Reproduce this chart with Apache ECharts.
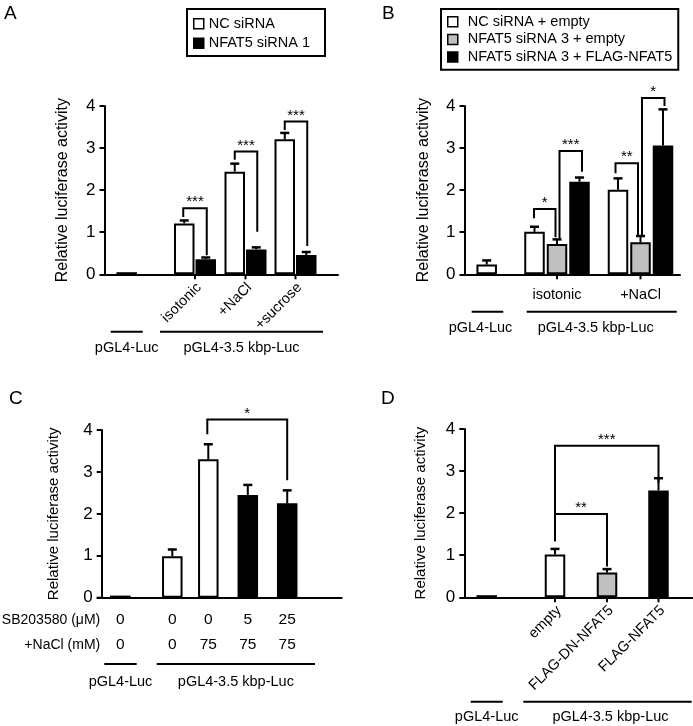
<!DOCTYPE html>
<html><head><meta charset="utf-8">
<script src="https://cdn.jsdelivr.net/npm/echarts@6/dist/echarts.min.js"></script>
<style>html,body{margin:0;padding:0;background:#fff}#c{width:693px;height:726px}</style>
</head><body><div id="c"></div>
<script>
const FONT = '"Liberation Sans", Arial, Helvetica, sans-serif';

// ---------------- DATA ----------------
const promoters = ['pGL4-Luc', 'pGL4-3.5 kbp-Luc'];
const yTicks = [0, 1, 2, 3, 4];

// Panel A
const A_groups = ['pGL4-Luc', 'isotonic', '+NaCl', '+sucrose'];
const A_names = ['NC siRNA', 'NFAT5 siRNA 1'];
const A_nc = [0.05, 1.21, 2.44, 3.21];
const A_ncErr = [0, 0.07, 0.19, 0.15];
const A_kd = [null, 0.36, 0.59, 0.46];
const A_kdErr = [null, 0.04, 0.05, 0.07];
const A_sig = ['***', '***', '***'];

// Panel B
const B_groups = ['pGL4-Luc', 'isotonic', '+NaCl'];
const B_names = ['NC siRNA + empty', 'NFAT5 siRNA 3 + empty', 'NFAT5 siRNA 3 + FLAG-NFAT5'];
const B_nc = [0.23, 1.01, 2.01];
const B_ncErr = [0.10, 0.12, 0.27];
const B_kd = [null, 0.72, 0.76];
const B_kdErr = [null, 0.11, 0.15];
const B_res = [null, 2.20, 3.06];
const B_resErr = [null, 0.10, 0.86];
const B_sig = ['*', '***', '**', '*'];

// Panel C
const C_sb = ['0', '0', '0', '5', '25'];
const C_nacl = ['0', '0', '75', '75', '75'];
const C_rowNames = ['SB203580 (\u03bcM)', '+NaCl (mM)'];
const C_veh = [0.05, 0.99, 3.30, null, null];
const C_vehErr = [0, 0.16, 0.36, null, null];
const C_inh = [null, null, null, 2.45, 2.25];
const C_inhErr = [null, null, null, 0.24, 0.31];
const C_sig = ['*'];

// Panel D
const D_groups = ['pGL4-Luc', 'empty', 'FLAG-DN-NFAT5', 'FLAG-NFAT5'];
const D_empty = [0.05, 1.02, null, null];
const D_emptyErr = [0, 0.13, null, null];
const D_dn = [null, null, 0.59, null];
const D_dnErr = [null, null, 0.08, null];
const D_fl = [null, null, null, 2.54];
const D_flErr = [null, null, null, 0.29];
const D_sig = ['**', '***'];

// ---------------- LAYOUT ----------------
const WHITE = '#ffffff', GRAY = '#c0c0c0', BLACK = '#000000';
const grids = [
  {left: 104.5, top: 106, width: 233.5, height: 168.3},
  {left: 464.5, top: 106, width: 215.5, height: 168.3},
  {left: 101.7, top: 430, width: 240, height: 167.7},
  {left: 464.3, top: 429, width: 228, height: 168.3}
];

const panels = [
  { // A
    groupX: [22.2, 90.5, 141, 191], pitch: 21.5,
    series: [
      {name: A_names[0], values: A_nc, errs: A_ncErr, color: WHITE},
      {name: A_names[1], values: A_kd, errs: A_kdErr, color: BLACK}
    ],
    brackets: [
      {from: 1, to: 2, y1: 1.36, top: 1.57, y2: 0.45, dxL: -1, dxR: 1},
      {from: 3, to: 4, y1: 2.72, top: 2.92, y2: 1.01, dxL: 0, dxR: 1},
      {from: 5, to: 6, y1: 3.43, top: 3.63, y2: 0.67, dxL: 0, dxR: 1}
    ], sig: A_sig,
    ticks: {groups: [1, 2, 3]},
    rotLabels: {groups: [1, 2, 3], texts: A_groups},
    under: [[6.2, 38.2, 0], [55.5, 218.5, 0]], underDy: 57.4, underLabelDy: 73.7,
    yName: 16, nameGap: 34, stub: 0
  },
  { // B
    groupX: [22.2, 92.5, 176], pitch: 22.5,
    series: [
      {name: B_names[0], values: B_nc, errs: B_ncErr, color: WHITE},
      {name: B_names[1], values: B_kd, errs: B_kdErr, color: GRAY},
      {name: B_names[2], values: B_res, errs: B_resErr, color: BLACK}
    ],
    brackets: [
      {from: 1, to: 2, y1: 1.33, top: 1.55, y2: 0.88, dxL: -0.5, dxR: -1.5},
      {from: 2, to: 3, y1: 0.86, top: 2.93, y2: 2.44, dxL: 2.5, dxR: 2.5},
      {from: 4, to: 5, y1: 2.40, top: 2.64, y2: 0.93, dxL: -2.5, dxR: -2.5},
      {from: 5, to: 6, y1: 0.93, top: 4.19, y2: 4.00, dxL: 1.5, dxR: 1.5}
    ], sig: B_sig,
    ticks: {groups: [1, 2]},
    hLabels: {groups: [1, 2], texts: B_groups, dy: 21},
    under: [[7.2, 38.8, -7], [62.2, 212.2, -6]], underDy: 37.4, underLabelDy: 54,
    yName: 16, nameGap: 33, stub: 0
  },
  { // C
    groupX: [18.6, 70.6, 106.6, 146.1, 185.5], pitch: 0,
    series: [
      {name: 'SB203580 0 \u03bcM', values: C_veh, errs: C_vehErr, color: WHITE},
      {name: 'SB203580', values: C_inh, errs: C_inhErr, color: BLACK}
    ],
    brackets: [
      {from: 2, to: 4, y1: 3.90, top: 4.25, y2: 2.80, dxL: -1, dxR: 0}
    ], sig: C_sig,
    rows: {values: [C_sb, C_nacl], names: C_rowNames, dy: [22.3, 47.3]},
    under: [[2.6, 35, 0], [55, 213.3, 0]], underDy: 66.3, underLabelDy: 84,
    yName: 15, nameGap: 40, stub: 5
  },
  { // D
    groupX: [22.4, 90.7, 142.7, 194.2], pitch: 0,
    series: [
      {name: 'empty ', values: D_empty, errs: D_emptyErr, color: WHITE},
      {name: 'FLAG-DN-NFAT5 ', values: D_dn, errs: D_dnErr, color: GRAY},
      {name: 'FLAG-NFAT5 ', values: D_fl, errs: D_flErr, color: BLACK}
    ],
    brackets: [
      {from: 1, to: 2, y1: 1.33, top: 1.98, y2: 0.73, dxL: 0, dxR: 0},
      {from: 1, to: 3, y1: 1.33, top: 3.60, y2: 2.72, dxL: 0, dxR: 0}
    ], sig: D_sig,
    ticks: {groups: [1, 2, 3]},
    rotLabels: {groups: [1, 2, 3], texts: D_groups},
    under: [[6.4, 38.4, 0], [59, 227.4, 3]], underDy: 104.4, underLabelDy: 120,
    yName: 15, nameGap: 36, stub: 0
  }
];

// ---------------- BUILD ----------------
function buildSlots(p) {
  const slots = [];
  p.groupX.forEach((gx, g) => {
    const present = [];
    p.series.forEach((s, si) => { if (s.values[g] != null) present.push(si); });
    present.forEach((si, j) => {
      slots.push({g, si, x: gx + (j - (present.length - 1) / 2) * p.pitch,
        v: p.series[si].values[g], e: p.series[si].errs[g] || 0});
    });
  });
  return slots;
}

const txt = (t, x, y, o) => ({type: 'text', x, y, rotation: (o && o.rot) || 0,
  style: {text: t, fill: '#000', fontSize: (o && o.size) || 14.5, fontFamily: FONT,
    align: (o && o.align) || 'center', verticalAlign: 'middle'}});
const seg = (x1, y1, x2, y2, w) => ({type: 'line', shape: {x1, y1, x2, y2},
  style: {stroke: '#000', lineWidth: w || 2}});

const series = [], xAxes = [], yAxes = [];
panels.forEach((p, gi) => {
  const slots = buildSlots(p);
  xAxes.push({gridIndex: gi, type: 'value', min: 0, max: grids[gi].width,
    axisLine: {show: true, onZero: false, lineStyle: {color: '#000', width: 2}},
    axisTick: {show: false}, axisLabel: {show: false}, splitLine: {show: false}});
  yAxes.push({gridIndex: gi, type: 'value', min: yTicks[0], max: yTicks[yTicks.length - 1], interval: 1,
    axisLine: {show: true, lineStyle: {color: '#000', width: 2}},
    axisTick: {show: true, length: 5, lineStyle: {color: '#000', width: 2}},
    axisLabel: {color: '#000', fontSize: 17, fontFamily: FONT, margin: 9},
    splitLine: {show: false},
    name: 'Relative luciferase activity', nameLocation: 'middle', nameGap: p.nameGap,
    nameTextStyle: {color: '#000', fontSize: p.yName, fontFamily: FONT}});

  // bars
  p.series.forEach((s, si) => {
    series.push({type: 'bar', name: s.name, xAxisIndex: gi, yAxisIndex: gi, stack: 'st' + gi,
      barWidth: 20.5, silent: true, z: 2,
      itemStyle: {color: s.color, borderColor: '#000', borderWidth: 2},
      data: slots.map(sl => sl.si === si ? [sl.x, sl.v] : [sl.x, '-'])});
  });

  // error bars
  series.push({type: 'custom', xAxisIndex: gi, yAxisIndex: gi, silent: true, z: 3,
    data: slots.filter(sl => sl.e > 0).map(sl => [sl.x, sl.v, sl.e]),
    renderItem: (params, api) => {
      const x = api.value(0), v = api.value(1), e = api.value(2);
      const a = api.coord([x, v]), b = api.coord([x, v + e]);
      return {type: 'group', children: [seg(a[0], a[1], b[0], b[1], 2),
        seg(b[0] - 4.5, b[1], b[0] + 4.5, b[1], 2.5)]};
    }});

  // annotations
  const items = [];
  p.brackets.forEach((br, k) => items.push({kind: 'bracket', x: slots[br.from].x, br, label: p.sig[k],
    xL: slots[br.from].x, xR: slots[br.to].x}));
  if (p.ticks) p.ticks.groups.forEach(g => items.push({kind: 'tick', x: p.groupX[g]}));
  if (p.rotLabels) p.rotLabels.groups.forEach(g => items.push({kind: 'rot', x: p.groupX[g], text: p.rotLabels.texts[g]}));
  if (p.hLabels) p.hLabels.groups.forEach(g => items.push({kind: 'hl', x: p.groupX[g], text: p.hLabels.texts[g], dy: p.hLabels.dy}));
  if (p.rows) {
    p.rows.values.forEach((row, r) => {
      items.push({kind: 'rowname', x: 0, text: p.rows.names[r], dy: p.rows.dy[r]});
      row.forEach((t, g) => items.push({kind: 'hl', x: p.groupX[g], text: t, dy: p.rows.dy[r], size: 15.5}));
    });
  }
  if (p.stub) items.push({kind: 'stub', x: 0, len: p.stub});
  p.under.forEach((u, k) => items.push({kind: 'under', x: u[0], x2: u[1], ldx: u[2], text: promoters[k],
    dy: p.underDy, ldy: p.underLabelDy}));

  series.push({type: 'custom', xAxisIndex: gi, yAxisIndex: gi, silent: true, z: 4,
    data: items.map((it, i) => [it.x, 0, i]),
    renderItem: (params, api) => {
      const it = items[params.dataIndex];
      const base = api.coord([it.x, 0]);
      if (it.kind === 'bracket') {
        const br = it.br;
        const l = api.coord([it.xL, br.y1]), t = api.coord([it.xL, br.top]), r = api.coord([it.xR, br.y2]);
        const xl = l[0] + br.dxL, xr = r[0] + br.dxR, yt = t[1];
        return {type: 'group', children: [
          {type: 'polyline', shape: {points: [[xl, l[1]], [xl, yt], [xr, yt], [xr, r[1]]]},
            style: {stroke: '#000', fill: 'none', lineWidth: 2}},
          txt(it.label, (xl + xr) / 2, yt - 6, {size: 15})]};
      }
      if (it.kind === 'tick') return seg(base[0], base[1], base[0], base[1] + 5, 2);
      if (it.kind === 'stub') return seg(base[0] - it.len, base[1], base[0] + 1, base[1], 2);
      if (it.kind === 'rot') return txt(it.text, base[0] + 4, base[1] + 11, {rot: Math.PI / 4, align: 'right'});
      if (it.kind === 'hl') return txt(it.text, base[0], base[1] + it.dy, {size: it.size || 14.5});
      if (it.kind === 'rowname') return txt(it.text, base[0] - 1.5, base[1] + it.dy, {size: 14, align: 'right'});
      if (it.kind === 'under') {
        const b2 = api.coord([it.x2, 0]);
        return {type: 'group', children: [seg(base[0], base[1] + it.dy, b2[0], base[1] + it.dy, 2),
          txt(it.text, (base[0] + b2[0]) / 2 + it.ldx, base[1] + it.ldy, {size: 14.5})]};
      }
      return null;
    }});
});

const legendCommon = {orient: 'vertical', icon: 'rect', itemWidth: 10, itemHeight: 10, itemGap: 0,
  selectedMode: false, borderColor: '#000', borderWidth: 2, backgroundColor: '#fff',
  itemStyle: {borderColor: '#000', borderWidth: 1.5}};

const option = {
  animation: false,
  backgroundColor: '#fff',
  title: [['A', 4, 4.6], ['B', 382, 4.6], ['C', 9, 389.5], ['D', 381, 389.5]].map(t => ({
    text: t[0], left: t[1], top: t[2], padding: 0,
    textStyle: {fontSize: 19, fontWeight: 'normal', color: '#000', fontFamily: FONT}})),
  legend: [
    Object.assign({}, legendCommon, {data: A_names, left: 187, top: 9, padding: [5, 15, 3, 6],
      textStyle: {fontSize: 14.5, fontFamily: FONT, color: '#000', lineHeight: 19.5}}),
    Object.assign({}, legendCommon, {data: B_names, left: 441, top: 9, padding: [4, 6, 4, 6],
      textStyle: {fontSize: 14.5, fontFamily: FONT, color: '#000', lineHeight: 17.6, padding: [0, 0, 0, 5]}})
  ],
  grid: grids.map(g => Object.assign({containLabel: false, outerBoundsMode: 'none'}, g)),
  xAxis: xAxes,
  yAxis: yAxes,
  series: series
};

const chart = echarts.init(document.getElementById('c'), null, {renderer: 'canvas'});
chart.setOption(option);
</script></body></html>
